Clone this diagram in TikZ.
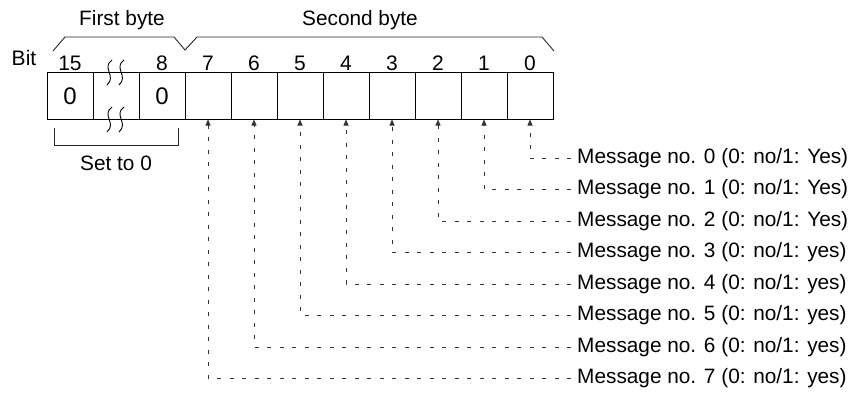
\documentclass[tikz,border=0pt]{standalone}
\usepackage{fontspec}
\setmainfont{Liberation Sans}
\usetikzlibrary{arrows.meta}

\begin{document}
\begin{tikzpicture}[x=1pt,y=-1pt]
\tikzset{
  cell/.style={draw,line width=1pt,minimum width=46pt,minimum height=46pt,inner sep=0pt,font=\fontsize{24}{28}\selectfont},
  bitlabel/.style={inner sep=0pt,font=\fontsize{21}{25}\selectfont},
  caption/.style={inner sep=0pt,font=\fontsize{20.8}{24}\selectfont},
  msg/.style={anchor=west,inner sep=0pt,inner xsep=6pt,font=\fontsize{20.8}{24}\selectfont},
  bracket/.style={line width=0.9pt,black!85},
  breakmark/.style={line width=0.9pt},
  pointer/.style={line width=0.8pt,black!80,dash pattern=on 4pt off 8.5pt,-{Triangle[length=6pt,width=5pt]}}
}
\useasboundingbox (0,0) rectangle (850,393);
% register cells
\node[cell] (c0) at (70,96) {0};
\node[cell] (c1) at (116,96) {};
\node[cell] (c2) at (162,96) {0};
\node[cell] (c3) at (208,96) {};
\node[cell] (c4) at (254,96) {};
\node[cell] (c5) at (300,96) {};
\node[cell] (c6) at (346,96) {};
\node[cell] (c7) at (392,96) {};
\node[cell] (c8) at (438,96) {};
\node[cell] (c9) at (484,96) {};
\node[cell] (c10) at (530,96) {};
% bit numbers
\node[bitlabel] (bit) at (24,58) {Bit};
\node[bitlabel] (b15) at (70,63) {15};
\node[bitlabel] (b8) at (162,63) {8};
\node[bitlabel] (b7) at (208,63) {7};
\node[bitlabel] (b6) at (254,63) {6};
\node[bitlabel] (b5) at (300,63) {5};
\node[bitlabel] (b4) at (346,63) {4};
\node[bitlabel] (b3) at (392,63) {3};
\node[bitlabel] (b2) at (438,63) {2};
\node[bitlabel] (b1) at (484,63) {1};
\node[bitlabel] (b0) at (530,63) {0};
% byte brackets
\node[caption] (first) at (122,20) {First byte};
\node[caption] (second) at (360,20) {Second byte};
\draw[bracket] (53,51) -- (65,37) -- (174,37) -- (185,50) -- (197,37) -- (542,37) -- (554,51);
% break marks
\draw[breakmark] (112,60) .. controls (101,68) and (117,76) .. (107,85);
\draw[breakmark] (124,60) .. controls (113,68) and (129,76) .. (119,85);
\draw[breakmark] (112,107) .. controls (101,115) and (117,123) .. (107,132);
\draw[breakmark] (124,107) .. controls (113,115) and (129,123) .. (119,132);
% set to 0
\draw[bracket] (54,128) -- (54,145) -- (178,145) -- (178,128);
\node[caption] (zero) at (116,163) {Set to 0};
% messages
\node[msg] (m0) at (571,158) {Message no. 0 (0: no/1: Yes)};
\node[msg] (m1) at (571,189) {Message no. 1 (0: no/1: Yes)};
\node[msg] (m2) at (571,221) {Message no. 2 (0: no/1: Yes)};
\node[msg] (m3) at (571,252) {Message no. 3 (0: no/1: yes)};
\node[msg] (m4) at (571,284) {Message no. 4 (0: no/1: yes)};
\node[msg] (m5) at (571,315) {Message no. 5 (0: no/1: yes)};
\node[msg] (m6) at (571,347) {Message no. 6 (0: no/1: yes)};
\node[msg] (m7) at (571,378) {Message no. 7 (0: no/1: yes)};
\draw[pointer] (m0.west) -| (c10.south);
\draw[pointer] (m1.west) -| (c9.south);
\draw[pointer] (m2.west) -| (c8.south);
\draw[pointer] (m3.west) -| (c7.south);
\draw[pointer] (m4.west) -| (c6.south);
\draw[pointer] (m5.west) -| (c5.south);
\draw[pointer] (m6.west) -| (c4.south);
\draw[pointer] (m7.west) -| (c3.south);
\end{tikzpicture}
\end{document}
